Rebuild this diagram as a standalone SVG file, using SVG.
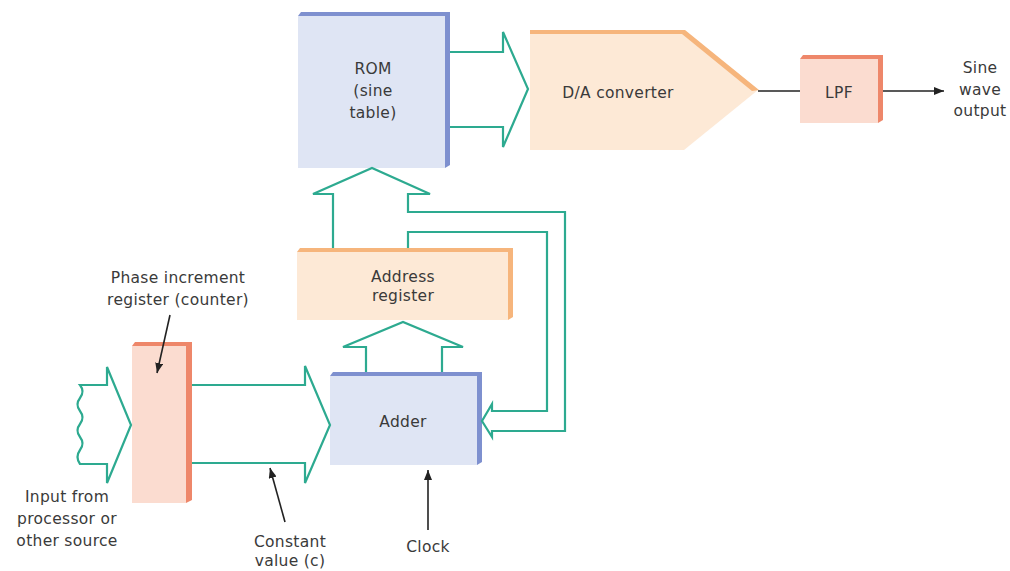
<svg xmlns="http://www.w3.org/2000/svg" width="1010" height="571" viewBox="0 0 1010 571">
<defs>
<style>
.t{font-family:"DejaVu Sans","Liberation Sans",sans-serif;font-size:15.5px;fill:#3a3a3a;text-anchor:middle;letter-spacing:0.3px}
.bus{fill:none;stroke:#2daa90;stroke-width:2.2;stroke-linejoin:miter}
.wire{fill:none;stroke:#222;stroke-width:1.6}
.blueF{fill:#dfe5f4}.blueE{fill:#7e90cf}
.peachF{fill:#fde9d6}.peachE{fill:#f6b57c}
.pinkF{fill:#fbdcd0}.pinkE{fill:#ee876a}
</style>
<marker id="ah" markerUnits="userSpaceOnUse" markerWidth="10" markerHeight="8" refX="10" refY="4" orient="auto">
<path d="M0,0 L10,4 L0,8 Z" fill="#222"/>
</marker>
</defs>
<rect width="1010" height="571" fill="#fff"/>

<g id="rom">
<rect class="blueF" x="298" y="16" width="147" height="152"/>
<polygon class="blueE" points="298,16 301,12 450,12 450,165 445,168 445,16"/>
<text class="t" x="373" y="74">ROM</text>
<text class="t" x="373" y="96">(sine</text>
<text class="t" x="373" y="118">table)</text>
</g>

<g id="dac">
<polygon class="peachF" points="530,30 684,30 758,90 684,150 530,150"/>
<polygon class="peachE" points="530,30 685,30 759,90 752,91 682,34 530,34"/>
<text class="t" x="618" y="98">D/A converter</text>
</g>

<g id="lpf">
<rect class="pinkF" x="800" y="59" width="78" height="64"/>
<polygon class="pinkE" points="800,59 803,55 883,55 883,120 878,123 878,59"/>
<text class="t" x="839" y="98">LPF</text>
</g>

<g id="output">
<text class="t" x="980" y="73">Sine</text>
<text class="t" x="980" y="95">wave</text>
<text class="t" x="980" y="116">output</text>
</g>

<g id="address-register">
<rect class="peachF" x="297" y="252" width="211" height="68"/>
<polygon class="peachE" points="297,252 300,248 513,248 513,317 508,320 508,252"/>
<text class="t" x="403" y="282">Address</text>
<text class="t" x="403" y="301">register</text>
</g>

<g id="adder">
<rect class="blueF" x="330" y="376" width="147" height="89"/>
<polygon class="blueE" points="330,376 333,372 482,372 482,462 477,465 477,376"/>
<text class="t" x="403" y="427">Adder</text>
</g>

<g id="phase-register">
<rect class="pinkF" x="132" y="346" width="54" height="157"/>
<polygon class="pinkE" points="132,346 135,342 192,342 192,500 186,503 186,346"/>
<text class="t" x="178" y="283">Phase increment</text>
<text class="t" x="178" y="305">register (counter)</text>
</g>

<g id="input">
<text class="t" x="67" y="502">Input from</text>
<text class="t" x="67" y="524">processor or</text>
<text class="t" x="67" y="546">other source</text>
</g>

<g id="constant-label">
<text class="t" x="290" y="547">Constant</text>
<text class="t" x="290" y="566">value (c)</text>
</g>

<g id="clock">
<text class="t" x="428" y="552">Clock</text>
</g>

<g id="connectors">
<path class="bus" d="M80,385 H107 V367 L131,425 L107,483 V464 H80 q-5,-7 0,-14 q5,-6.5 0,-13 q-5,-6.5 0,-13 q5,-6.5 0,-13 q-5,-6.5 0,-13 q5,-6.5 0,-13 Z"/>
<path class="bus" d="M192,385 H305 V366 L330,425 L305,483 V463 H192"/>
<path class="bus" d="M366,372 V347 H343 L403,322 L463,347 H442 V372"/>
<path class="bus" d="M333,248 V194 H313 L372,168 L430,194 H408 V212 H565 V431 H492 V437 L482,421 L492,404 V411 H547 V232 H408 V248"/>
<path class="bus" d="M450,52 H503 V32 L528,89 L503,147 V127 H450"/>
<path class="wire" d="M758,91 H800"/>
<path class="wire" d="M883,91 H944" marker-end="url(#ah)"/>
<path class="wire" d="M428,530 V470" marker-end="url(#ah)"/>
<path class="wire" d="M170,315 L157,373" marker-end="url(#ah)"/>
<path class="wire" d="M285,522 L270,468" marker-end="url(#ah)"/>
</g>
</svg>
